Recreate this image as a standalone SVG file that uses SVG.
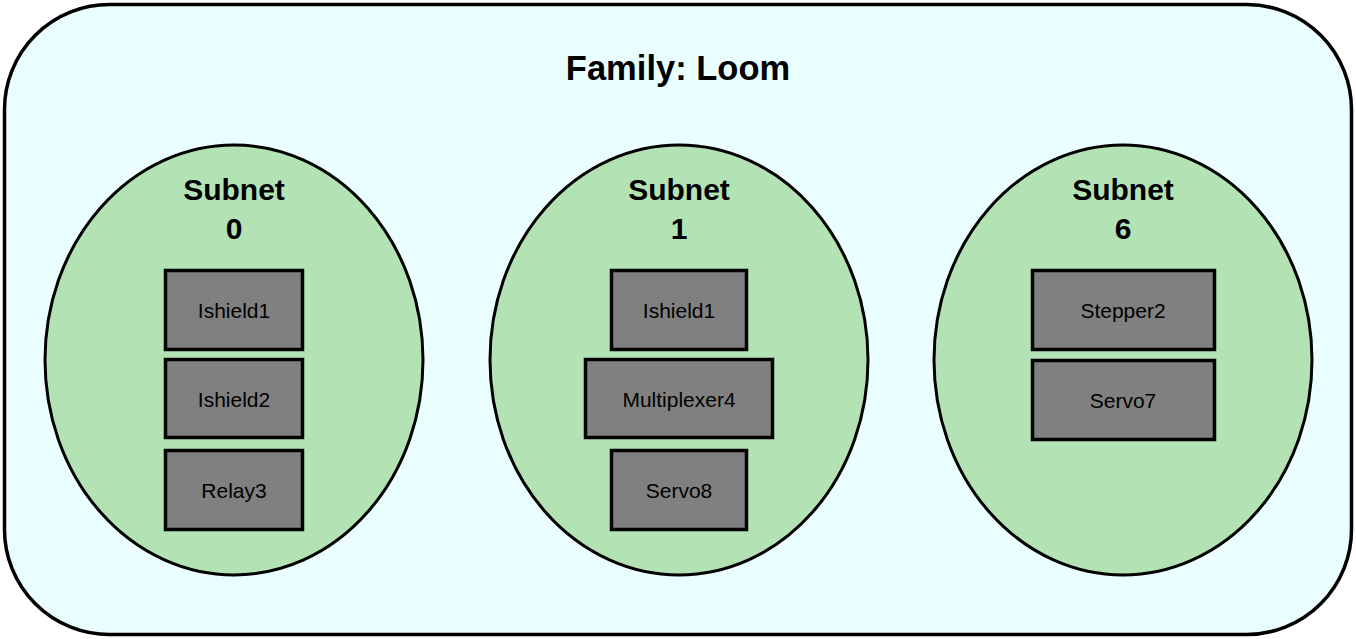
<svg xmlns="http://www.w3.org/2000/svg" width="1356" height="639" viewBox="0 0 1356 639">
<style>
.fam{fill:#ebfeff;stroke:#000;stroke-width:3.5}
.sub{fill:#b3e3b5;stroke:#000;stroke-width:3}
.box{fill:#808080;stroke:#000;stroke-width:3.5}
.t{font-family:"Liberation Sans",Arial,sans-serif;fill:#000;text-anchor:middle}
.title{font-size:34.5px;font-weight:bold}
.st{font-size:30px;font-weight:bold}
.bt{font-size:21px}
</style>
<g id="family">
<rect class="fam" x="4.5" y="4.5" width="1347" height="630" rx="105" ry="105"/>
<text class="t title" x="678" y="79.5">Family: Loom</text>
</g>
<g id="subnet0">
<ellipse class="sub" cx="234" cy="360" rx="189" ry="215"/>
<text class="t st" x="234" y="199.5">Subnet</text>
<text class="t st" x="234" y="238.5">0</text>
</g>
<g id="subnet1">
<ellipse class="sub" cx="679" cy="360" rx="189" ry="215"/>
<text class="t st" x="679" y="199.5">Subnet</text>
<text class="t st" x="679" y="238.5">1</text>
</g>
<g id="subnet6">
<ellipse class="sub" cx="1123" cy="360" rx="189" ry="215"/>
<text class="t st" x="1123" y="199.5">Subnet</text>
<text class="t st" x="1123" y="238.5">6</text>
</g>
<g id="s0-ishield1"><rect class="box" x="165.5" y="270.5" width="137" height="79"/><text class="t bt" x="234" y="317.5">Ishield1</text></g>
<g id="s0-ishield2"><rect class="box" x="165.5" y="359.5" width="137" height="78"/><text class="t bt" x="234" y="407">Ishield2</text></g>
<g id="s0-relay3"><rect class="box" x="165.5" y="450.5" width="137" height="79"/><text class="t bt" x="234" y="497.5">Relay3</text></g>
<g id="s1-ishield1"><rect class="box" x="611.5" y="270.5" width="135" height="79"/><text class="t bt" x="679" y="317.5">Ishield1</text></g>
<g id="s1-multiplexer4"><rect class="box" x="585.5" y="359.5" width="187" height="78"/><text class="t bt" x="679" y="407">Multiplexer4</text></g>
<g id="s1-servo8"><rect class="box" x="611.5" y="450.5" width="135" height="79"/><text class="t bt" x="679" y="497.5">Servo8</text></g>
<g id="s6-stepper2"><rect class="box" x="1032.5" y="270.5" width="182" height="79"/><text class="t bt" x="1123" y="317.5">Stepper2</text></g>
<g id="s6-servo7"><rect class="box" x="1032.5" y="360.5" width="182" height="79"/><text class="t bt" x="1123" y="407.5">Servo7</text></g>
<g id="connectors"></g>
</svg>
